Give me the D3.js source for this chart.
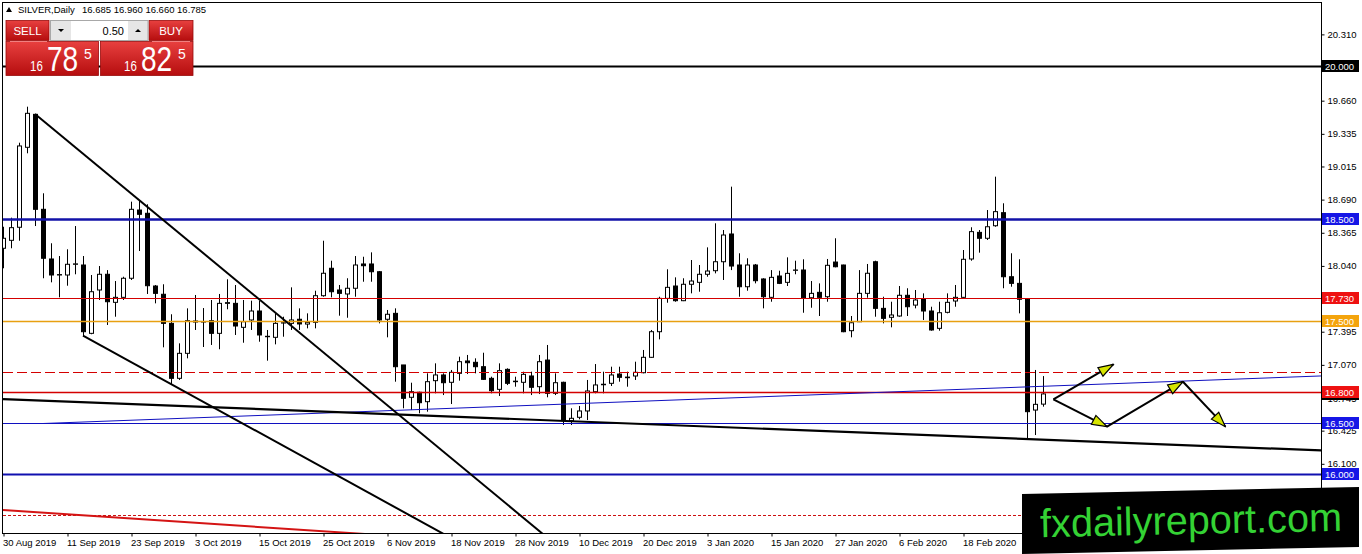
<!DOCTYPE html>
<html>
<head>
<meta charset="utf-8">
<script src="https://cdn.jsdelivr.net/npm/d3@7"></script>
<style>
  html, body { margin: 0; padding: 0; background: #fff; overflow: hidden; }
  svg { display: block; }
</style>
</head>
<body>
<svg id="chart"></svg>
<script>
const d3 = window.d3;

// SILVER daily, 30 Aug 2019 .. 3 Mar 2020 (one entry per trading day)
const opens = [
  18.213, 18.291, 18.419, 19.203, 19.526, 18.595, 18.108, 17.951, 17.951, 18.056,
  18.049, 17.379, 17.804, 17.958, 17.683, 17.732, 17.919, 18.588, 18.556, 17.843,
  17.762, 17.477, 16.938, 17.183, 17.500, 17.493, 17.503, 17.379, 17.673, 17.673,
  17.438, 17.510, 17.598, 17.346, 17.340, 17.480, 17.477, 17.517, 17.470, 17.487,
  17.748, 18.017, 17.804, 17.765, 17.821, 18.059, 18.059, 17.983, 17.517, 17.575,
  17.069, 16.752, 16.801, 16.709, 16.915, 16.971, 16.899, 16.987, 17.108, 17.095,
  17.052, 16.938, 16.830, 17.026, 16.910, 16.899, 16.961, 16.856, 17.117, 16.791,
  16.899, 16.523, 16.556, 16.618, 16.807, 16.875, 16.889, 16.980, 16.950, 16.961,
  16.993, 17.144, 17.395, 17.722, 17.843, 17.699, 17.860, 17.879, 17.958, 17.993,
  18.081, 18.353, 18.049, 17.836, 18.049, 17.912, 17.732, 17.941, 17.879, 17.997,
  18.000, 17.728, 17.781, 17.738, 18.078, 18.049, 17.405, 17.493, 17.771, 18.081,
  17.624, 17.536, 17.549, 17.752, 17.656, 17.719, 17.598, 17.428, 17.585, 17.696,
  17.732, 18.108, 18.369, 18.311, 18.434, 18.562, 17.934, 17.869, 17.713, 16.627,
  16.685
];
const highs = [
  18.424, 18.513, 19.248, 19.601, 19.530, 18.752, 18.262, 18.137, 18.203, 18.431,
  18.137, 17.951, 18.039, 17.999, 17.892, 17.934, 18.670, 18.677, 18.644, 17.853,
  17.860, 17.566, 17.281, 17.624, 17.755, 17.627, 17.706, 17.765, 17.909, 17.853,
  17.706, 17.699, 17.699, 17.412, 17.575, 17.542, 17.830, 17.624, 17.575, 17.797,
  18.287, 18.091, 17.853, 17.919, 18.137, 18.130, 18.173, 17.990, 17.608, 17.624,
  17.069, 16.895, 16.807, 16.987, 17.085, 16.987, 17.020, 17.150, 17.167, 17.134,
  17.189, 16.954, 17.085, 17.036, 16.954, 17.003, 17.003, 17.167, 17.265, 16.987,
  16.905, 16.644, 16.667, 16.922, 17.078, 17.003, 17.052, 17.052, 17.003, 17.101,
  17.216, 17.412, 17.738, 18.007, 17.928, 17.919, 18.098, 18.049, 18.222, 18.458,
  18.392, 18.817, 18.164, 18.115, 18.059, 17.919, 17.999, 17.993, 18.124, 18.091,
  18.105, 17.892, 17.869, 18.108, 18.311, 18.052, 17.549, 17.999, 18.059, 18.091,
  17.738, 17.689, 17.843, 17.821, 17.804, 17.771, 17.640, 17.689, 17.771, 17.853,
  18.196, 18.419, 18.392, 18.588, 18.915, 18.654, 18.164, 18.105, 17.722, 17.020,
  16.960
];
const lows = [
  18.017, 18.213, 18.287, 19.144, 18.431, 17.919, 17.879, 17.732, 17.846, 17.958,
  17.346, 17.370, 17.706, 17.461, 17.542, 17.706, 17.902, 18.186, 17.765, 17.673,
  17.242, 16.879, 16.922, 17.134, 17.412, 17.245, 17.265, 17.223, 17.615, 17.363,
  17.287, 17.412, 17.297, 17.111, 17.271, 17.346, 17.412, 17.412, 17.428, 17.428,
  17.738, 17.732, 17.552, 17.532, 17.738, 17.885, 17.885, 17.477, 17.340, 16.905,
  16.644, 16.627, 16.595, 16.611, 16.791, 16.774, 16.686, 16.915, 16.980, 16.987,
  16.922, 16.791, 16.765, 16.872, 16.856, 16.791, 16.774, 16.784, 16.752, 16.774,
  16.480, 16.480, 16.536, 16.529, 16.791, 16.791, 16.863, 16.905, 16.856, 16.922,
  16.987, 17.140, 17.320, 17.679, 17.689, 17.695, 17.771, 17.787, 17.934, 17.967,
  17.902, 17.999, 17.738, 17.797, 17.869, 17.624, 17.689, 17.862, 17.843, 17.958,
  17.581, 17.630, 17.549, 17.689, 18.026, 17.390, 17.340, 17.490, 17.728, 17.542,
  17.477, 17.438, 17.542, 17.549, 17.624, 17.510, 17.405, 17.405, 17.575, 17.640,
  17.722, 18.091, 18.170, 18.294, 18.424, 17.821, 17.836, 17.575, 16.350, 16.382,
  16.660
];
const closes = [
  18.311, 18.415, 19.216, 19.536, 18.595, 18.115, 17.951, 17.955, 18.056, 18.060,
  17.395, 17.787, 17.958, 17.689, 17.732, 17.919, 18.595, 18.546, 17.846, 17.771,
  17.477, 16.938, 17.183, 17.503, 17.490, 17.490, 17.379, 17.673, 17.680, 17.451,
  17.493, 17.598, 17.363, 17.350, 17.477, 17.483, 17.510, 17.471, 17.487, 17.748,
  17.968, 17.787, 17.771, 17.821, 18.049, 18.042, 17.983, 17.510, 17.566, 17.052,
  16.742, 16.807, 16.699, 16.905, 16.971, 16.895, 16.997, 17.101, 17.091, 17.052,
  16.928, 16.817, 17.013, 16.889, 16.905, 16.977, 16.850, 17.101, 16.791, 16.895,
  16.523, 16.546, 16.618, 16.814, 16.873, 16.880, 16.971, 16.948, 16.944, 16.997,
  17.144, 17.395, 17.722, 17.830, 17.699, 17.860, 17.892, 17.958, 17.990, 18.081,
  18.343, 18.039, 17.836, 18.049, 17.895, 17.738, 17.928, 17.869, 17.967, 18.000,
  17.728, 17.771, 17.732, 18.046, 18.032, 17.395, 17.483, 17.771, 17.968, 17.624,
  17.526, 17.559, 17.752, 17.640, 17.706, 17.598, 17.412, 17.581, 17.683, 17.732,
  18.105, 18.376, 18.311, 18.424, 18.572, 17.934, 17.869, 17.713, 16.611, 16.683,
  16.785
];

const dateLabels = [
  '30 Aug 2019', '11 Sep 2019', '23 Sep 2019', '3 Oct 2019', '15 Oct 2019',
  '25 Oct 2019', '6 Nov 2019', '18 Nov 2019', '28 Nov 2019', '10 Dec 2019',
  '20 Dec 2019', '3 Jan 2020', '15 Jan 2020', '27 Jan 2020', '6 Feb 2020',
  '18 Feb 2020'
];
const barsPerLabel = 8;

const priceTicks = [
  20.310, 19.985, 19.660, 19.335, 19.015, 18.690, 18.365, 18.040, 17.715,
  17.395, 17.070, 16.745, 16.425, 16.100, 15.775
];

// horizontal levels drawn on the chart, with their axis tags
const levelPrices = [20.000, 18.500, 17.730, 17.500, 16.800, 16.500, 16.000];
const dashedLevels = [17.000, 15.600];
const bidPrice = 16.785;

// trend lines: [bar, price, bar, price]
const channelLines = [
  [4, 19.530, 80, 14.600],
  [10, 17.356, 60, 15.200]
];
const supportLine = [0, 16.735, 165, 16.230];
const blueTrend = [5, 16.495, 165, 16.962];
const redTrend = [0, 15.647, 60, 15.335];

// forecast arrows: [bar, price, bar, price]
const arrows = [
  [131.3, 16.732, 138.8, 17.075],
  [131.3, 16.732, 138.0, 16.464],
  [138.0, 16.464, 147.5, 16.905],
  [147.5, 16.905, 152.8, 16.464]
];

const W = 1362, H = 554;
const plot = {left: 3, top: 3, right: 1321, bottom: 533};

const x = d3.scaleLinear().domain([0, 1]).range([3, 11]);
const y = d3.scaleLinear().domain([16, 20]).range([474, 66]);

const svg = d3.select('#chart')
  .attr('width', W)
  .attr('height', H)
  .style('font-family', '"Liberation Sans", Arial, sans-serif');

svg.append('rect').attr('width', W).attr('height', H).attr('fill', '#fff');

const defs = svg.append('defs');
defs.append('clipPath').attr('id', 'plotClip')
  .append('rect')
  .attr('x', plot.left).attr('y', plot.top)
  .attr('width', plot.right - plot.left).attr('height', plot.bottom - plot.top);

defs.append('marker')
  .attr('id', 'head')
  .attr('markerUnits', 'userSpaceOnUse')
  .attr('viewBox', '-17 -7 18 14')
  .attr('markerWidth', 18).attr('markerHeight', 14)
  .attr('refX', 0).attr('refY', 0)
  .attr('orient', 'auto')
  .append('path')
  .attr('d', 'M0,0 L-15,-5 L-15,5 Z')
  .attr('fill', '#d6e400')
  .attr('stroke', '#000')
  .attr('stroke-width', 1.2);

const redGrad = defs.append('linearGradient')
  .attr('id', 'redGrad').attr('x1', 0).attr('y1', 0).attr('x2', 0).attr('y2', 1);
redGrad.append('stop').attr('offset', '0%').attr('stop-color', '#e8403f');
redGrad.append('stop').attr('offset', '100%').attr('stop-color', '#b50d0e');

const chart = svg.append('g').attr('clip-path', 'url(#plotClip)');

// ---- candles
const bars = opens.map((o, i) => ({i, o, h: highs[i], l: lows[i], c: closes[i]}));
const candle = chart.append('g').selectAll('g').data(bars).enter().append('g');

candle.append('line')
  .attr('x1', d => x(d.i) + 0.5).attr('x2', d => x(d.i) + 0.5)
  .attr('y1', d => y(d.h)).attr('y2', d => y(d.l))
  .attr('stroke', '#000').attr('stroke-width', 1);

candle.append('rect')
  .attr('x', d => x(d.i) - 1.5)
  .attr('width', 4)
  .attr('y', d => y(Math.max(d.o, d.c)))
  .attr('height', d => Math.max(0.01, Math.abs(y(d.o) - y(d.c))))
  .attr('fill', d => d.c >= d.o ? '#fff' : '#000')
  .attr('stroke', '#000').attr('stroke-width', 1);

// ---- level lines
const levelStyle = {
  '20.000': {line: '#000', width: 2, tag: '#000'},
  '18.500': {line: '#1212a8', width: 2.5, tag: '#1616e6'},
  '17.730': {line: '#d40000', width: 1, tag: '#ee1111'},
  '17.500': {line: '#e8a010', width: 1.4, tag: '#f4a40c'},
  '16.800': {line: '#d40000', width: 1.3, tag: '#ee1111'},
  '16.500': {line: '#1010c0', width: 1, tag: '#1616e6'},
  '16.000': {line: '#1010b0', width: 2, tag: '#1616e6'}
};

const levels = chart.append('g');
levelPrices.forEach(p => {
  const s = levelStyle[p.toFixed(3)];
  levels.append('line')
    .attr('x1', plot.left).attr('x2', plot.right)
    .attr('y1', Math.round(y(p)) + 0.5).attr('y2', Math.round(y(p)) + 0.5)
    .attr('stroke', s.line).attr('stroke-width', s.width);
});

levels.append('line')
  .attr('x1', plot.left).attr('x2', plot.right)
  .attr('y1', Math.round(y(dashedLevels[0])) + 0.5).attr('y2', Math.round(y(dashedLevels[0])) + 0.5)
  .attr('stroke', '#d40000').attr('stroke-width', 1.2)
  .attr('stroke-dasharray', '10,4');
levels.append('line')
  .attr('x1', plot.left).attr('x2', plot.right)
  .attr('y1', Math.round(y(dashedLevels[1])) + 0.5).attr('y2', Math.round(y(dashedLevels[1])) + 0.5)
  .attr('stroke', '#cc1010').attr('stroke-width', 1)
  .attr('stroke-dasharray', '3,2');

// ---- trend lines
const seg = (g, [i1, p1, i2, p2], color, width) => g.append('line')
  .attr('x1', x(i1)).attr('y1', y(p1))
  .attr('x2', x(i2)).attr('y2', y(p2))
  .attr('stroke', color).attr('stroke-width', width);

const trends = chart.append('g');
seg(trends, redTrend, '#d41414', 2);
seg(trends, blueTrend, '#1010c0', 1);
seg(trends, supportLine, '#000', 2.2);
channelLines.forEach(l => seg(trends, l, '#000', 2));

arrows.forEach(a => seg(trends, a, '#000', 2).attr('marker-end', 'url(#head)'));

// ---- frame
svg.append('rect')
  .attr('x', plot.left - 0.5).attr('y', plot.top - 0.5)
  .attr('width', plot.right - plot.left + 1).attr('height', plot.bottom - plot.top + 1)
  .attr('fill', 'none').attr('stroke', '#000').attr('stroke-width', 1);

// ---- price axis
const yAxis = svg.append('g')
  .attr('transform', `translate(${plot.right + 0.5},0)`)
  .call(d3.axisRight(y).tickValues(priceTicks).tickSize(3).tickPadding(3)
    .tickFormat(d3.format('.3f')));
yAxis.select('.domain').remove();
yAxis.selectAll('text').attr('font-size', 9.5).attr('fill', '#000')
  .attr('font-family', '"Liberation Sans", Arial, sans-serif');
yAxis.selectAll('line').attr('stroke', '#000');

const tags = svg.append('g');
const tagBox = (p, bg) => {
  const yy = Math.round(y(p));
  tags.append('rect')
    .attr('x', plot.right + 1).attr('y', yy - 6)
    .attr('width', 37).attr('height', 12)
    .attr('fill', bg);
  return yy;
};
// bid tag sits under the 16.800 tag, only its lower edge shows
tagBox(bidPrice, '#000');
levelPrices.forEach(p => {
  const yy = tagBox(p, levelStyle[p.toFixed(3)].tag);
  tags.append('text')
    .attr('x', plot.right + 4).attr('y', yy + 3.5)
    .attr('font-size', 9.5).attr('fill', '#fff')
    .text(p.toFixed(3));
});

// ---- date axis
const xAxis = svg.append('g')
  .attr('transform', `translate(0.5,${plot.bottom + 0.5})`)
  .call(d3.axisBottom(x)
    .tickValues(dateLabels.map((_, k) => k * barsPerLabel))
    .tickFormat((_, k) => dateLabels[k])
    .tickSize(3).tickPadding(3));
xAxis.select('.domain').remove();
xAxis.selectAll('line').attr('stroke', '#000');
xAxis.selectAll('text')
  .attr('text-anchor', 'start').attr('dx', -1)
  .attr('font-size', 9.5).attr('fill', '#000')
  .attr('font-family', '"Liberation Sans", Arial, sans-serif');

// ---- trading panel (top-left)
const panel = svg.append('g');
panel.append('path').attr('d', 'M6,12 L12,12 L9,7 Z').attr('fill', '#000');
panel.append('text').attr('x', 18).attr('y', 13).attr('font-size', 9.5)
  .text('SILVER,Daily');
panel.append('text').attr('x', 82).attr('y', 13).attr('font-size', 9.5)
  .text(`${opens[130].toFixed(3)} ${highs[130].toFixed(3)} ${lows[130].toFixed(3)} ${closes[130].toFixed(3)}`);

const redBox = (bx, by, bw, bh) => panel.append('rect')
  .attr('x', bx).attr('y', by).attr('width', bw).attr('height', bh)
  .attr('fill', 'url(#redGrad)').attr('stroke', '#9a0c0c').attr('stroke-width', 0.8);

redBox(6, 20.5, 43, 20);
redBox(149, 20.5, 44, 20);
redBox(6, 41.5, 92.5, 34);
redBox(100.5, 41.5, 92.5, 34);
panel.append('line').attr('x1', 10).attr('x2', 47).attr('y1', 41.5).attr('y2', 41.5)
  .attr('stroke', '#f08080').attr('stroke-width', 1);
panel.append('line').attr('x1', 152).attr('x2', 190).attr('y1', 41.5).attr('y2', 41.5)
  .attr('stroke', '#f08080').attr('stroke-width', 1);

panel.append('text').attr('x', 27.5).attr('y', 35).attr('text-anchor', 'middle')
  .attr('font-size', 11.5).attr('fill', '#fff').text('SELL');
panel.append('text').attr('x', 171).attr('y', 35).attr('text-anchor', 'middle')
  .attr('font-size', 11.5).attr('fill', '#fff').text('BUY');

// lot size control
panel.append('rect').attr('x', 50.5).attr('y', 20.5).attr('width', 97.5).attr('height', 20)
  .attr('fill', '#e6e6e6').attr('stroke', '#a8a8a8');
panel.append('rect').attr('x', 71).attr('y', 21).attr('width', 57).attr('height', 19)
  .attr('fill', '#fff');
panel.append('path').attr('d', 'M58,29 L64,29 L61,32 Z').attr('fill', '#000');
panel.append('path').attr('d', 'M135,32 L141,32 L138,29 Z').attr('fill', '#000');
panel.append('text').attr('x', 124).attr('y', 35).attr('text-anchor', 'end')
  .attr('font-size', 11).attr('fill', '#000').text('0.50');

// quote digits: pip prefix, big pips, fractional pip (narrowed by a scale)
const quote = (bx, big) => {
  panel.append('text').attr('transform', `translate(${bx},71) scale(0.82,1)`)
    .attr('font-size', 14).attr('fill', '#fff').text('16');
  panel.append('text').attr('transform', `translate(${bx + 17},71) scale(0.78,1)`)
    .attr('font-size', 36).attr('fill', '#fff').text(big);
  panel.append('text').attr('x', bx + 54).attr('y', 58.5).attr('font-size', 14)
    .attr('fill', '#fff').text('5');
};
quote(30, '78');
quote(124, '82');

// ---- watermark
const mark = svg.append('g');
mark.append('path')
  .attr('d', 'M1022,494 L1359,487 L1359,547 L1022,554 Z')
  .attr('fill', '#000');
mark.append('text')
  .attr('x', 1040).attr('y', 534)
  .attr('transform', 'rotate(-1.2,1190,520)')
  .attr('font-size', 40).attr('fill', '#34d234')
  .attr('textLength', 302).attr('lengthAdjust', 'spacingAndGlyphs')
  .text('fxdailyreport.com');
</script>
</body>
</html>
